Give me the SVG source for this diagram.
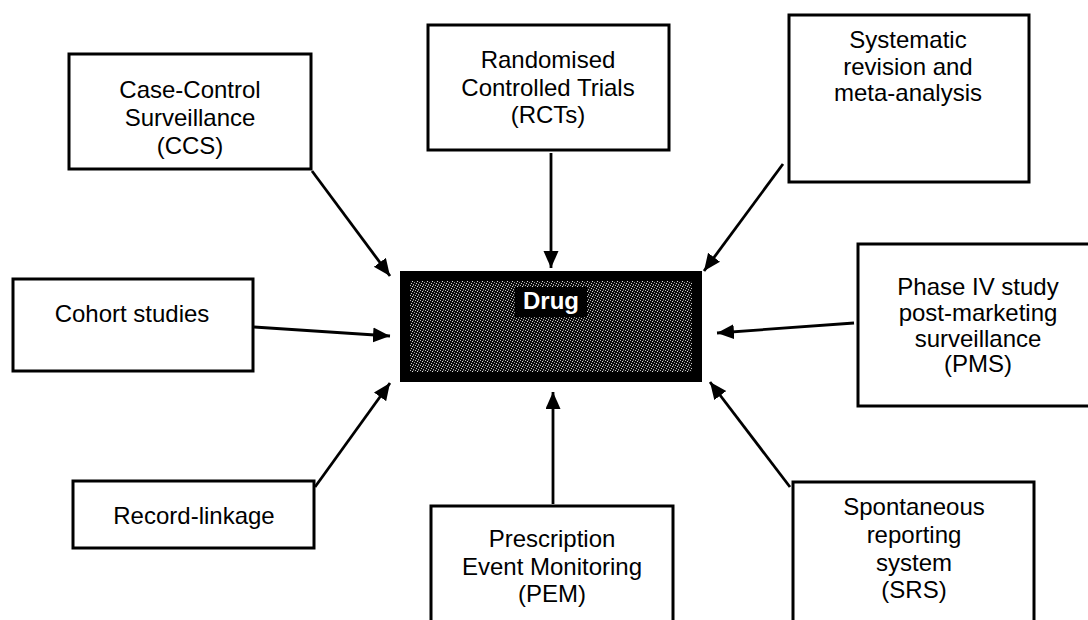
<svg xmlns="http://www.w3.org/2000/svg" width="1088" height="620" viewBox="0 0 1088 620">
<style>
.box{fill:#fff;stroke:#000;stroke-width:3}
.t{font-family:"Liberation Sans",Arial,sans-serif;font-size:24px;fill:#000;text-anchor:middle}
.c{stroke:#000;stroke-width:2.8;fill:none;marker-end:url(#ah)}
</style>
<defs>
<marker id="ah" markerUnits="userSpaceOnUse" markerWidth="18" markerHeight="16" refX="17" refY="7.5" orient="auto">
<path d="M0,0 L17,7.5 L0,15 z" fill="#000"/>
</marker>
<pattern id="dither" width="5" height="5" patternUnits="userSpaceOnUse">
<rect width="5" height="5" fill="#0a0a0a"/>
<rect x="0" y="0" width="1" height="1" fill="#bbb"/>
<rect x="2" y="1" width="1" height="1" fill="#ddd"/>
<rect x="4" y="2" width="1" height="1" fill="#999"/>
<rect x="1" y="3" width="1" height="1" fill="#ccc"/>
<rect x="3" y="4" width="1" height="1" fill="#aaa"/>
<rect x="3" y="0" width="1" height="1" fill="#555"/>
</pattern>
</defs>
<rect width="1088" height="620" fill="#fff"/>

<g id="connectors">
<line class="c" x1="312" y1="171" x2="390" y2="276"/>
<line class="c" x1="551" y1="153" x2="551" y2="268"/>
<line class="c" x1="783" y1="164" x2="704" y2="271"/>
<line class="c" x1="254" y1="327" x2="390" y2="336"/>
<line class="c" x1="854" y1="323" x2="717" y2="333"/>
<line class="c" x1="315" y1="487" x2="390" y2="383"/>
<line class="c" x1="553" y1="504" x2="553" y2="392"/>
<line class="c" x1="790" y1="487" x2="710" y2="382"/>
</g>

<g id="drug">
<rect x="405" y="276" width="292" height="101" fill="url(#dither)" stroke="#000" stroke-width="10"/>
<rect x="515" y="287" width="72" height="30" fill="#000"/>
<text x="551" y="309" style="font-family:'Liberation Sans',Arial,sans-serif;font-size:24px;font-weight:bold;fill:#fff;text-anchor:middle">Drug</text>
</g>

<g id="ccs">
<rect class="box" x="69" y="54" width="242" height="115"/>
<text class="t" x="190" y="98">Case-Control</text>
<text class="t" x="190" y="126">Surveillance</text>
<text class="t" x="190" y="154">(CCS)</text>
</g>

<g id="rct">
<rect class="box" x="428" y="25" width="241" height="125"/>
<text class="t" x="548" y="68">Randomised</text>
<text class="t" x="548" y="96">Controlled Trials</text>
<text class="t" x="548" y="123">(RCTs)</text>
</g>

<g id="systematic">
<rect class="box" x="789" y="15" width="240" height="167"/>
<text class="t" x="908" y="48">Systematic</text>
<text class="t" x="908" y="75">revision and</text>
<text class="t" x="908" y="101">meta-analysis</text>
</g>

<g id="cohort">
<rect class="box" x="13" y="279" width="240" height="92"/>
<text class="t" x="132" y="322">Cohort studies</text>
</g>

<g id="pms">
<rect class="box" x="858" y="244" width="245" height="162"/>
<text class="t" x="978" y="295">Phase IV study</text>
<text class="t" x="978" y="321">post-marketing</text>
<text class="t" x="978" y="347">surveillance</text>
<text class="t" x="978" y="372">(PMS)</text>
</g>

<g id="record">
<rect class="box" x="73" y="481" width="241" height="67"/>
<text class="t" x="194" y="524">Record-linkage</text>
</g>

<g id="pem">
<rect class="box" x="431" y="506" width="242" height="130"/>
<text class="t" x="552" y="547">Prescription</text>
<text class="t" x="552" y="575">Event Monitoring</text>
<text class="t" x="552" y="602">(PEM)</text>
</g>

<g id="srs">
<rect class="box" x="793" y="482" width="241" height="150"/>
<text class="t" x="914" y="515">Spontaneous</text>
<text class="t" x="914" y="543">reporting</text>
<text class="t" x="914" y="571">system</text>
<text class="t" x="914" y="598">(SRS)</text>
</g>
</svg>
